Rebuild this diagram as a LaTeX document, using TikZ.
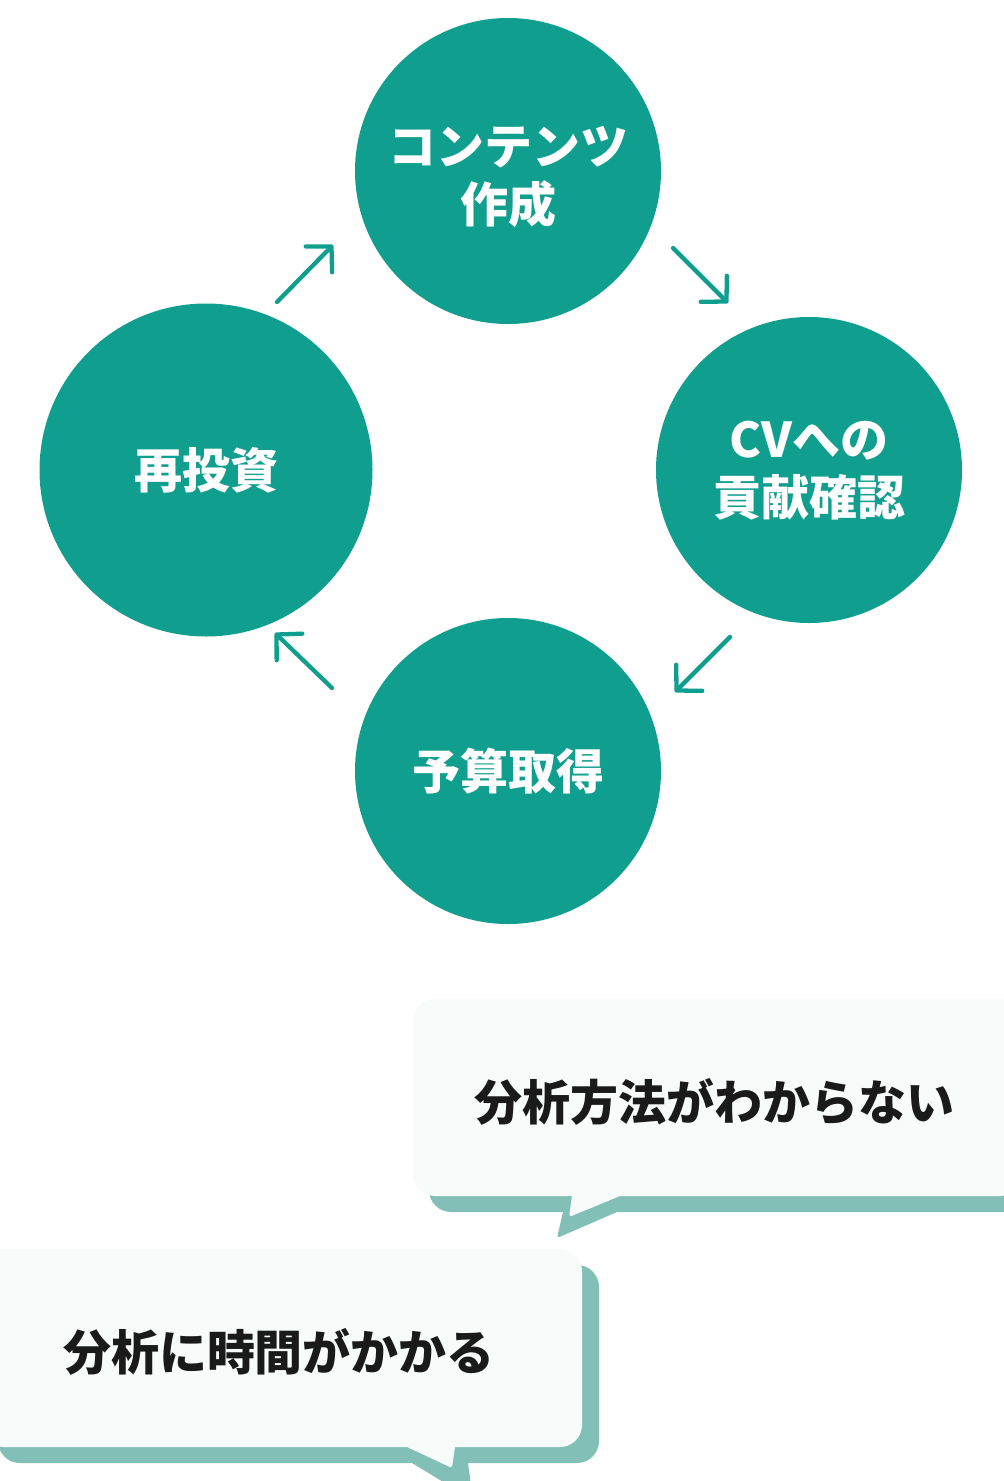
\documentclass[tikz,border=0pt]{standalone}
\usepackage{fontspec}
\setmainfont{Noto Sans CJK JP}
\usetikzlibrary{arrows.meta}
\definecolor{tealc}{HTML}{109E8F}
\definecolor{shadowc}{HTML}{82C0B7}
\definecolor{bubblec}{HTML}{F7FBFA}
\definecolor{textc}{HTML}{1A1A1A}
\begin{document}
\begin{tikzpicture}[x=1pt,y=-1pt,
  stage/.style={circle, fill=tealc, inner sep=0pt, minimum size=306pt},
  stagetext/.style={text=white, inner sep=0pt,
    font=\fontsize{48}{58}\selectfont\bfseries, align=center},
  cyc/.style={draw=tealc, line width=4.3pt, line cap=round,
    -{Straight Barb[round,length=18pt,width=37pt]}},
  shadowfill/.style={fill=shadowc},
  bubblefill/.style={fill=bubblec},
  say/.style={text=textc, font=\fontsize{48}{58}\selectfont\bfseries, inner sep=0pt}
]
\useasboundingbox (0,0) rectangle (1004,1481);
\clip (0,0) rectangle (1004,1481);

% cycle circles
\node[stage] (make) at (508,171) {};
\node[stage] (cv) at (809,470) {};
\node[stage] (budget) at (508,771) {};
\node[stage, minimum size=333pt] (reinv) at (206,470) {};
\node[stagetext] (maketxt) at ([yshift=-6pt]make.center) {コンテンツ\\作成};
\node[stagetext] (cvtxt) at ([yshift=-1pt]cv.center) {CVへの\\貢献確認};
\node[stagetext] (budgettxt) at (budget.center) {予算取得};
\node[stagetext] (reinvtxt) at (reinv.center) {再投資};

% arrows
\coordinate (a1s) at (277,302); \coordinate (a1e) at (333,245);
\coordinate (a2s) at (673,248); \coordinate (a2e) at (728,303);
\coordinate (a3s) at (730,637); \coordinate (a3e) at (675,692);
\coordinate (a4s) at (332,688); \coordinate (a4e) at (275,633);
\draw[cyc] (a1s) -- (a1e);
\draw[cyc] (a2s) -- (a2e);
\draw[cyc] (a3s) -- (a3e);
\draw[cyc] (a4s) -- (a4e);

% bubble 1
\fill[shadowfill] (700,1015) [rounded corners=22pt] -- (1038,1015) -- (1038,1212)
  [sharp corners] -- (617,1212) [rounded corners=3pt] -- (557,1238) [sharp corners] -- (563,1212)
  [rounded corners=22pt] -- (429,1212) -- (429,1015) -- cycle;
\fill[bubblefill] (700,999) [rounded corners=22pt] -- (1022,999) -- (1022,1196)
  [sharp corners] -- (620,1196) [rounded corners=3pt] -- (569,1217) [sharp corners] -- (572,1196)
  [rounded corners=22pt] -- (413,1196) -- (413,999) -- cycle;
\node[say] (q1) at (714,1102) {分析方法がわからない};

% bubble 2
\fill[shadowfill] (300,1265) [rounded corners=22pt] -- (599,1265) -- (599,1463)
  [sharp corners] -- (468,1463) [rounded corners=3pt] -- (473,1500) [sharp corners] -- (412,1463)
  [rounded corners=22pt] -- (-2,1463) -- (-2,1265) -- cycle;
\fill[bubblefill] (300,1249) [rounded corners=22pt] -- (582,1249) -- (582,1447)
  [sharp corners] -- (455,1447) [rounded corners=3pt] -- (452,1468) [sharp corners] -- (407,1447)
  [rounded corners=22pt] -- (-18,1447) -- (-18,1249) -- cycle;
\node[say] (q2) at (279,1352) {分析に時間がかかる};
\end{tikzpicture}
\end{document}
